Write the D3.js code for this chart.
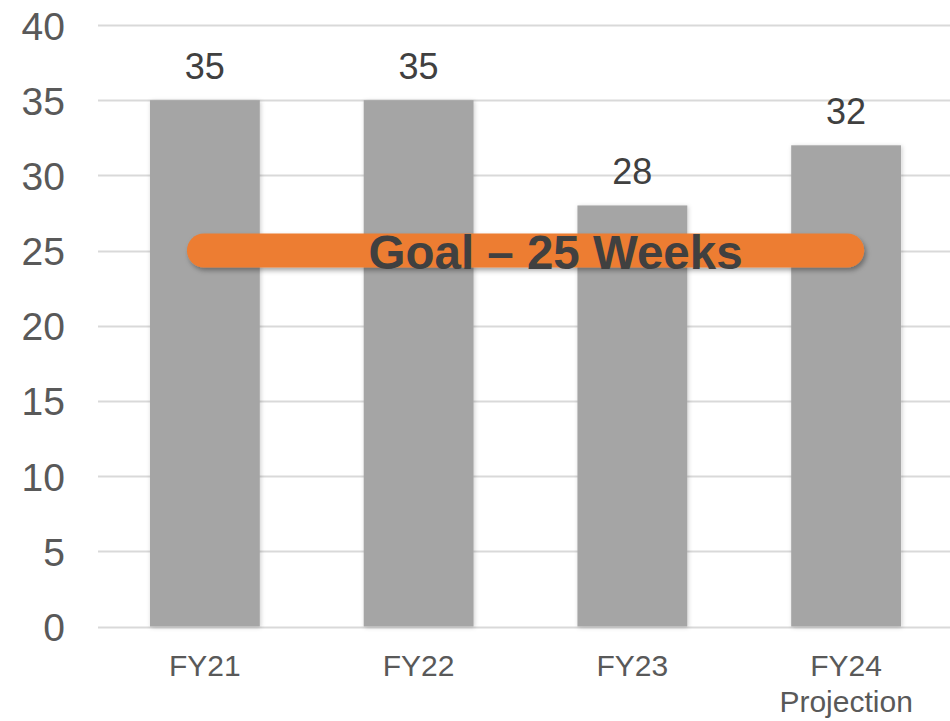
<!DOCTYPE html>
<html>
<head>
<meta charset="utf-8">
<script src="https://cdn.jsdelivr.net/npm/d3@7"></script>
<style>
  html, body { margin: 0; padding: 0; background: #fff; }
  svg { display: block; font-family: "Liberation Sans", Arial, sans-serif; }
</style>
</head>
<body>
<svg id="chart" width="950" height="721"></svg>
<script>
// chart values
const categories = ['FY21', 'FY22', 'FY23', 'FY24\nProjection'];
const weeks = [35, 35, 28, 32];
const yTicks = [0, 5, 10, 15, 20, 25, 30, 35, 40];
const goalValue = 25;
const goalLabel = 'Goal \u2013 25 Weeks';

const margin = { top: 25, right: 0, bottom: 94, left: 98 };
const width = 950, height = 721;

const svg = d3.select('#chart');

const defs = svg.append('defs');
defs.append('filter').attr('id', 'barShadow')
    .attr('x', '-10%').attr('y', '-10%').attr('width', '120%').attr('height', '120%')
  .append('feDropShadow')
    .attr('dx', 1).attr('dy', 1).attr('stdDeviation', 2)
    .attr('flood-color', '#000').attr('flood-opacity', 0.2);
defs.append('filter').attr('id', 'pillShadow')
    .attr('x', '-5%').attr('y', '-40%').attr('width', '110%').attr('height', '180%')
  .append('feDropShadow')
    .attr('dx', 2).attr('dy', 3).attr('stdDeviation', 2.5)
    .attr('flood-color', '#000').attr('flood-opacity', 0.35);

const x = d3.scaleBand()
    .domain(categories)
    .range([margin.left, width + 3])
    .paddingInner(0.486)
    .paddingOuter(0.243);

const y = d3.scaleLinear()
    .domain([0, 40])
    .range([height - margin.bottom - 0.5, margin.top]);

// gridlines
svg.append('g')
    .selectAll('line')
    .data(yTicks)
    .join('line')
    .attr('x1', margin.left)
    .attr('x2', width)
    .attr('y1', d => Math.round(y(d)) + 0.5)
    .attr('y2', d => Math.round(y(d)) + 0.5)
    .attr('stroke', '#d9d9d9')
    .attr('stroke-width', 2);

// y axis labels
const yAxis = svg.append('g')
    .attr('transform', `translate(65,0)`)
    .call(d3.axisLeft(y).tickValues(yTicks).tickSize(0).tickPadding(0));
yAxis.select('.domain').remove();
yAxis.selectAll('text')
    .attr('font-size', 39)
    .attr('font-family', '"Liberation Sans", Arial, sans-serif')
    .attr('fill', '#595959')
    .attr('dy', '0.36em');

// bars
svg.append('g')
    .selectAll('rect')
    .data(weeks)
    .join('rect')
    .attr('x', (d, i) => x(categories[i]))
    .attr('y', d => y(d))
    .attr('width', x.bandwidth())
    .attr('height', d => y(0) - y(d))
    .attr('fill', '#a5a5a5')
    .attr('filter', 'url(#barShadow)');

// data labels
svg.append('g')
    .selectAll('text')
    .data(weeks)
    .join('text')
    .attr('x', (d, i) => x(categories[i]) + x.bandwidth() / 2)
    .attr('y', d => y(d) - 21)
    .attr('text-anchor', 'middle')
    .attr('font-size', 36)
    .attr('fill', '#404040')
    .text(d => d);

// category labels
const xLabels = svg.append('g')
    .selectAll('text')
    .data(categories)
    .join('text')
    .attr('x', d => x(d) + x.bandwidth() / 2)
    .attr('y', y(0) + 49)
    .attr('text-anchor', 'middle')
    .attr('font-size', 30)
    .attr('fill', '#595959');
xLabels.selectAll('tspan')
    .data(d => d.split('\n').map(t => ({ t, cx: x(d) + x.bandwidth() / 2 })))
    .join('tspan')
    .attr('x', d => d.cx)
    .attr('dy', (d, i) => i === 0 ? 0 : 36)
    .text(d => d.t);

// goal annotation
const pillH = 34;
const pillX0 = x(categories[0]) + 37;
const pillX1 = x(categories[3]) + 73;
const goal = svg.append('g');
goal.append('rect')
    .attr('x', pillX0)
    .attr('y', y(goalValue) - pillH / 2)
    .attr('width', pillX1 - pillX0)
    .attr('height', pillH)
    .attr('rx', pillH / 2)
    .attr('fill', '#ed7d31')
    .attr('filter', 'url(#pillShadow)');
goal.append('text')
    .attr('x', (pillX0 + pillX1) / 2 + 30)
    .attr('y', y(goalValue) + 18)
    .attr('text-anchor', 'middle')
    .attr('font-size', 47.5)
    .attr('font-weight', 'bold')
    .attr('fill', '#404040')
    .text(goalLabel);
</script>
</body>
</html>
